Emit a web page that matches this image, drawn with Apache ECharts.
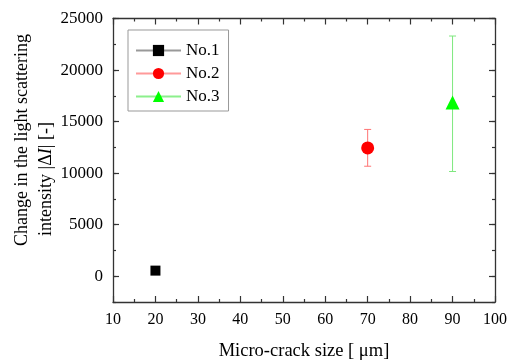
<!DOCTYPE html>
<html><head><meta charset="utf-8">
<script src="https://cdn.jsdelivr.net/npm/echarts@6/dist/echarts.min.js"></script>
<style>html,body{margin:0;padding:0;background:#fff}#c{width:509px;height:360px}</style>
</head><body><div id="c"></div>
<script>
const seriesNames = ['No.1', 'No.2', 'No.3'];
const crackSize = [20, 70, 90];
const intensity = [544, 12450, 16850];
const errLow = [544, 10670, 10160];
const errHigh = [544, 14240, 23300];
const xTickLabels = [10, 20, 30, 40, 50, 60, 70, 80, 90, 100];
const yTickLabels = [0, 5000, 10000, 15000, 20000, 25000];
const xTitle = 'Micro-crack size [ \u03bcm]';
const yTitle1 = 'Change in the light scattering';
const yTitle2 = 'intensity |\u0394{i|I}| [-]';

const FONT = 'Liberation Serif, serif';
const markerColors = ['#000000', '#ff0000', '#00ff00'];
const lineColors = ['#999999', '#ff9a9a', '#8cf08c'];
const errColors = ['#999999', '#ff7373', '#7ee87e'];
const symbols = ['rect', 'circle', 'triangle'];
const symbolSizes = [10, 13, 14];

const chart = echarts.init(document.getElementById('c'), null, {renderer: 'canvas'});
const axisLine = {show: true, onZero: false, lineStyle: {color: '#333', width: 1.3}};
const plain = v => String(v);

function xAx(pos, labels) {
  return {
    type: 'value', position: pos, min: 10, max: 100, interval: 10,
    axisLine: axisLine,
    axisTick: {show: true, inside: true, length: 6, lineStyle: {color: '#333', width: 1.2}},
    minorTick: {show: true, splitNumber: 2, length: 3, lineStyle: {color: '#333', width: 1.2}},
    axisLabel: {show: labels, fontFamily: FONT, fontSize: 16, color: '#000', margin: 10,
      customValues: xTickLabels, formatter: plain},
    splitLine: {show: false},
    name: labels ? xTitle : '', nameLocation: 'middle', nameGap: 40,
    nameTextStyle: {fontFamily: FONT, fontSize: 18.5, color: '#000'}
  };
}
function yAx(pos, labels, major) {
  return {
    type: 'value', position: pos, min: -2500, max: 25000, interval: 2500,
    axisLine: major ? axisLine : {show: false, onZero: false},
    axisTick: major
      ? {show: true, inside: true, length: 6, customValues: yTickLabels, lineStyle: {color: '#333', width: 1.2}}
      : {show: true, inside: true, length: 3, lineStyle: {color: '#333', width: 1.2}},
    axisLabel: {show: labels, fontFamily: FONT, fontSize: 17, color: '#000', margin: 10,
      customValues: yTickLabels, formatter: plain},
    splitLine: {show: false}
  };
}

const pointSeries = seriesNames.map((n, i) => ({
  name: n, type: 'line', xAxisIndex: 0, yAxisIndex: 0,
  symbol: symbols[i], symbolSize: symbolSizes[i], showSymbol: true,
  itemStyle: {color: markerColors[i]},
  lineStyle: {color: lineColors[i], width: 1},
  data: [[crackSize[i], intensity[i]]], z: 5
}));

const errData = crackSize.map((x, i) => ({
  value: [x, errLow[i], errHigh[i]], itemStyle: {color: errColors[i]}
})).filter(d => d.value[2] - d.value[1] > 0);

const errSeries = {
  name: 'err', type: 'custom', xAxisIndex: 0, yAxisIndex: 0, z: 3,
  data: errData,
  renderItem: function (params, api) {
    const x = api.value(0), lo = api.value(1), hi = api.value(2);
    const pLo = api.coord([x, lo]), pHi = api.coord([x, hi]);
    const hw = 3.5;
    const style = {stroke: api.visual('color'), lineWidth: 1};
    return {type: 'group', children: [
      {type: 'line', shape: {x1: pLo[0], y1: pLo[1], x2: pHi[0], y2: pHi[1]}, style: style},
      {type: 'line', shape: {x1: pLo[0] - hw, y1: pLo[1], x2: pLo[0] + hw, y2: pLo[1]}, style: style},
      {type: 'line', shape: {x1: pHi[0] - hw, y1: pHi[1], x2: pHi[0] + hw, y2: pHi[1]}, style: style}
    ]};
  }
};

chart.setOption({
  animation: false,
  backgroundColor: '#fff',
  textStyle: {fontFamily: FONT, color: '#000'},
  grid: {left: 113, right: 14, top: 18.5, bottom: 58, containLabel: false, outerBoundsMode: 'none'},
  xAxis: [xAx('bottom', true), xAx('top', false)],
  yAxis: [yAx('left', true, true), yAx('left', false, false), yAx('right', false, true), yAx('right', false, false)],
  legend: {
    data: seriesNames, orient: 'vertical', left: 128, top: 30,
    padding: [12, 9, 6, 7], itemGap: 6, itemWidth: 45, itemHeight: 14,
    borderColor: '#999', borderWidth: 1, borderRadius: 0,
    textStyle: {fontFamily: FONT, fontSize: 17, color: '#000', lineHeight: 17}
  },
  graphic: [
    {type: 'text', x: 22, y: 140, rotation: Math.PI / 2,
      style: {text: yTitle1, fontFamily: FONT, fontSize: 18, fill: '#000', align: 'center', verticalAlign: 'middle'}},
    {type: 'text', x: 46, y: 179, rotation: Math.PI / 2,
      style: {text: yTitle2, fontFamily: FONT, fontSize: 18, fill: '#000', align: 'center', verticalAlign: 'middle',
        rich: {i: {fontStyle: 'italic', fontFamily: FONT, fontSize: 18, fill: '#000'}}}}
  ],
  series: pointSeries.concat([errSeries])
});
</script></body></html>
